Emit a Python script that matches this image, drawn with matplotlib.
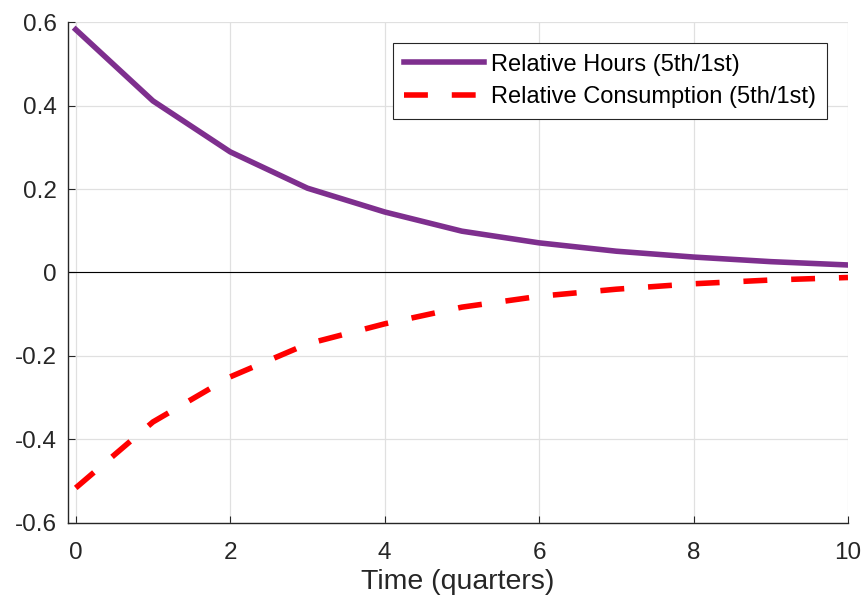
import matplotlib
matplotlib.use("Agg")
import matplotlib.pyplot as plt

plt.rcParams['font.family'] = ['Liberation Sans', 'DejaVu Sans']

# 数据 (quarters 0..10)
quarters = [0, 1, 2, 3, 4, 5, 6, 7, 8, 9, 10]
rel_hours = [0.582, 0.411, 0.289, 0.202, 0.145, 0.099, 0.071, 0.051, 0.037, 0.026, 0.018]
rel_cons = [-0.516, -0.358, -0.250, -0.171, -0.123, -0.083, -0.057, -0.040, -0.027, -0.018, -0.012]
labels = ["Relative Hours (5th/1st)", "Relative Consumption (5th/1st)"]

fig = plt.figure(figsize=(8.63, 6.03), dpi=100)
ax = fig.add_axes([0.0788, 0.1327, 0.9038, 0.8308])

ax.axhline(0, color="black", lw=0.8, zorder=1)
ax.plot(quarters, rel_hours, color="#7e2f8e", lw=4, label=labels[0], zorder=3)
ax.plot(quarters, rel_cons, color="#ff0000", lw=4, ls=(0, (4.3, 4.3)),
        dash_capstyle="butt", label=labels[1], zorder=3)

ax.set_xlim(-0.1, 10)
ax.set_ylim(-0.6, 0.6)
ax.set_xticks([0, 2, 4, 6, 8, 10])
ax.set_yticks([-0.6, -0.4, -0.2, 0, 0.2, 0.4, 0.6])
ax.set_yticklabels(["-0.6", "-0.4", "-0.2", "0", "0.2", "0.4", "0.6"])
ax.grid(True, color="#e0e0e0", lw=0.9)
ax.set_axisbelow(True)
for s in ["top", "right"]:
    ax.spines[s].set_visible(False)
for s in ["left", "bottom"]:
    ax.spines[s].set_color("#262626")
    ax.spines[s].set_linewidth(1.0)
ax.tick_params(direction="in", length=5, colors="#262626", labelsize=17.5)
ax.tick_params(axis="y", pad=8)
ax.tick_params(axis="x", pad=14)
ax.set_xlabel("Time (quarters)", fontsize=20.5, color="#262626", labelpad=3)

leg = ax.legend(loc="upper right", bbox_to_anchor=(0.973, 0.958), fontsize=17,
                handlelength=3.4, fancybox=False, framealpha=1, edgecolor="#262626",
                borderpad=0.45, labelspacing=0.45, handletextpad=0.3, borderaxespad=0)
leg.get_frame().set_linewidth(0.8)

fig.savefig("out.png", dpi=100)
